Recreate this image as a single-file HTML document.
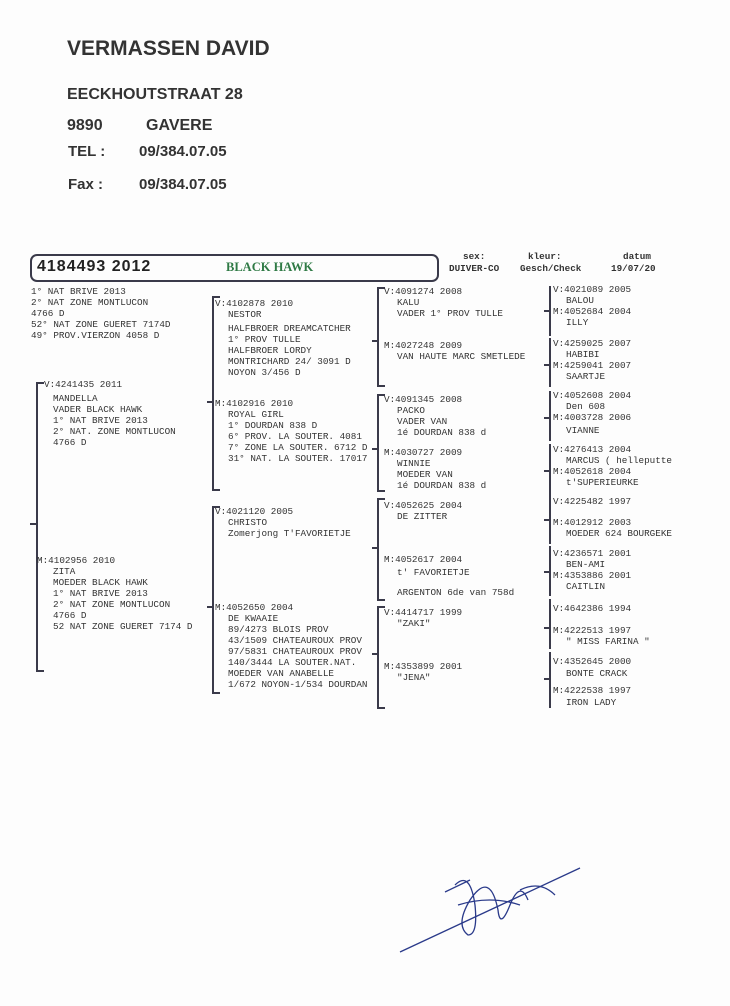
<!DOCTYPE html>
<html><head><meta charset="utf-8">
<style>
body{margin:0;width:730px;height:1006px;background:#fdfdfd;position:relative;overflow:hidden;font-family:"Liberation Sans",sans-serif;color:#333}
.a{position:absolute;white-space:pre;line-height:1}
.h{font-weight:bold;color:#333}
.m{position:absolute;white-space:pre;font-family:"Liberation Mono",monospace;font-size:9.3px;line-height:11px;color:#333}
.b{position:absolute;border:2px solid #3a3a4a;border-right:none;width:6px}
.bl{position:absolute;border-left:2px solid #3a3a4a}
.t{position:absolute;height:2px;background:#3a3a4a;width:7px}
</style></head><body>
<div class="a h" style="left:67px;top:38px;font-size:21px">VERMASSEN DAVID</div>
<div class="a h" style="left:67px;top:87px;font-size:16px">EECKHOUTSTRAAT 28</div>
<div class="a h" style="left:67px;top:118px;font-size:16px">9890</div>
<div class="a h" style="left:146px;top:118px;font-size:16px">GAVERE</div>
<div class="a h" style="left:68px;top:144px;font-size:15px">TEL :</div>
<div class="a h" style="left:139px;top:144px;font-size:15px">09/384.07.05</div>
<div class="a h" style="left:68px;top:177px;font-size:15px">Fax :</div>
<div class="a h" style="left:139px;top:177px;font-size:15px">09/384.07.05</div>

<div style="position:absolute;left:30px;top:254px;width:405px;height:24px;border:2px solid #3a3a4a;border-radius:7px"></div>
<div class="a h" style="left:37px;top:259px;font-size:16px;letter-spacing:1px;color:#222">4184493 2012</div>
<div class="a h" style="left:226px;top:261px;font-size:12.5px;font-family:'Liberation Serif',serif;color:#2f7a45">BLACK HAWK</div>
<div class="m" style="left:463px;top:251px;font-weight:bold">sex:</div>
<div class="m" style="left:449px;top:263px;font-weight:bold">DUIVER-CO</div>
<div class="m" style="left:528px;top:251px;font-weight:bold">kleur:</div>
<div class="m" style="left:520px;top:263px;font-weight:bold">Gesch/Check</div>
<div class="m" style="left:623px;top:251px;font-weight:bold">datum</div>
<div class="m" style="left:611px;top:263px;font-weight:bold">19/07/20</div>

<div class="m" style="left:31px;top:286px">1° NAT BRIVE 2013
2° NAT ZONE MONTLUCON
4766 D
52° NAT ZONE GUERET 7174D
49° PROV.VIERZON 4058 D</div>

<div class="b" style="left:36px;top:382px;height:286px"></div>
<div class="t" style="left:30px;top:523px"></div>
<div class="m" style="left:44px;top:379px">V:4241435 2011</div>
<div class="m" style="left:53px;top:393px">MANDELLA
VADER BLACK HAWK
1° NAT BRIVE 2013
2° NAT. ZONE MONTLUCON
4766 D</div>
<div class="m" style="left:37px;top:555px">M:4102956 2010</div>
<div class="m" style="left:53px;top:566px">ZITA
MOEDER BLACK HAWK
1° NAT BRIVE 2013
2° NAT ZONE MONTLUCON
4766 D
52 NAT ZONE GUERET 7174 D</div>

<div class="b" style="left:212px;top:296px;height:191px"></div>
<div class="t" style="left:207px;top:401px"></div>
<div class="m" style="left:215px;top:298px">V:4102878 2010</div>
<div class="m" style="left:228px;top:309px">NESTOR</div>
<div class="m" style="left:228px;top:323px">HALFBROER DREAMCATCHER
1° PROV TULLE
HALFBROER LORDY
MONTRICHARD 24/ 3091 D
NOYON 3/456 D</div>
<div class="m" style="left:215px;top:398px">M:4102916 2010</div>
<div class="m" style="left:228px;top:409px">ROYAL GIRL
1° DOURDAN 838 D
6° PROV. LA SOUTER. 4081
7° ZONE LA SOUTER. 6712 D
31° NAT. LA SOUTER. 17017</div>

<div class="b" style="left:212px;top:506px;height:184px"></div>
<div class="t" style="left:207px;top:606px"></div>
<div class="m" style="left:215px;top:506px">V:4021120 2005</div>
<div class="m" style="left:228px;top:517px">CHRISTO
Zomerjong T'FAVORIETJE</div>
<div class="m" style="left:215px;top:602px">M:4052650 2004</div>
<div class="m" style="left:228px;top:613px">DE KWAAIE
89/4273 BLOIS PROV
43/1509 CHATEAUROUX PROV
97/5831 CHATEAUROUX PROV
140/3444 LA SOUTER.NAT.
MOEDER VAN ANABELLE
1/672 NOYON-1/534 DOURDAN</div>

<div class="b" style="left:377px;top:287px;height:96px"></div>
<div class="t" style="left:372px;top:340px"></div>
<div class="m" style="left:384px;top:286px">V:4091274 2008</div>
<div class="m" style="left:397px;top:297px">KALU
VADER 1° PROV TULLE</div>
<div class="m" style="left:384px;top:340px">M:4027248 2009</div>
<div class="m" style="left:397px;top:351px">VAN HAUTE MARC SMETLEDE</div>

<div class="b" style="left:377px;top:394px;height:94px"></div>
<div class="t" style="left:372px;top:448px"></div>
<div class="m" style="left:384px;top:394px">V:4091345 2008</div>
<div class="m" style="left:397px;top:405px">PACKO
VADER VAN
1é DOURDAN 838 d</div>
<div class="m" style="left:384px;top:447px">M:4030727 2009</div>
<div class="m" style="left:397px;top:458px">WINNIE
MOEDER VAN
1é DOURDAN 838 d</div>

<div class="b" style="left:377px;top:498px;height:99px"></div>
<div class="t" style="left:372px;top:547px"></div>
<div class="m" style="left:384px;top:500px">V:4052625 2004</div>
<div class="m" style="left:397px;top:511px">DE ZITTER</div>
<div class="m" style="left:384px;top:554px">M:4052617 2004</div>
<div class="m" style="left:397px;top:567px">t' FAVORIETJE</div>
<div class="m" style="left:397px;top:587px">ARGENTON 6de van 758d</div>

<div class="b" style="left:377px;top:606px;height:99px"></div>
<div class="t" style="left:372px;top:653px"></div>
<div class="m" style="left:384px;top:607px">V:4414717 1999</div>
<div class="m" style="left:397px;top:618px">"ZAKI"</div>
<div class="m" style="left:384px;top:661px">M:4353899 2001</div>
<div class="m" style="left:397px;top:672px">"JENA"</div>

<div class="bl" style="left:549px;top:286px;height:50px"></div>
<div class="t" style="left:544px;top:310px"></div>
<div class="m" style="left:553px;top:284px">V:4021089 2005</div>
<div class="m" style="left:566px;top:295px">BALOU</div>
<div class="m" style="left:553px;top:306px">M:4052684 2004</div>
<div class="m" style="left:566px;top:317px">ILLY</div>

<div class="bl" style="left:549px;top:338px;height:49px"></div>
<div class="t" style="left:544px;top:364px"></div>
<div class="m" style="left:553px;top:338px">V:4259025 2007</div>
<div class="m" style="left:566px;top:349px">HABIBI</div>
<div class="m" style="left:553px;top:360px">M:4259041 2007</div>
<div class="m" style="left:566px;top:371px">SAARTJE</div>

<div class="bl" style="left:549px;top:391px;height:50px"></div>
<div class="t" style="left:544px;top:417px"></div>
<div class="m" style="left:553px;top:390px">V:4052608 2004</div>
<div class="m" style="left:566px;top:401px">Den 608</div>
<div class="m" style="left:553px;top:412px">M:4003728 2006</div>
<div class="m" style="left:566px;top:425px">VIANNE</div>

<div class="bl" style="left:549px;top:444px;height:50px"></div>
<div class="t" style="left:544px;top:470px"></div>
<div class="m" style="left:553px;top:444px">V:4276413 2004</div>
<div class="m" style="left:566px;top:455px">MARCUS ( helleputte</div>
<div class="m" style="left:553px;top:466px">M:4052618 2004</div>
<div class="m" style="left:566px;top:477px">t'SUPERIEURKE</div>

<div class="bl" style="left:549px;top:494px;height:50px"></div>
<div class="t" style="left:544px;top:519px"></div>
<div class="m" style="left:553px;top:496px">V:4225482 1997</div>
<div class="m" style="left:553px;top:517px">M:4012912 2003</div>
<div class="m" style="left:566px;top:528px">MOEDER 624 BOURGEKE</div>

<div class="bl" style="left:549px;top:546px;height:50px"></div>
<div class="t" style="left:544px;top:571px"></div>
<div class="m" style="left:553px;top:548px">V:4236571 2001</div>
<div class="m" style="left:566px;top:559px">BEN-AMI</div>
<div class="m" style="left:553px;top:570px">M:4353886 2001</div>
<div class="m" style="left:566px;top:581px">CAITLIN</div>

<div class="bl" style="left:549px;top:599px;height:50px"></div>
<div class="t" style="left:544px;top:627px"></div>
<div class="m" style="left:553px;top:603px">V:4642386 1994</div>
<div class="m" style="left:553px;top:625px">M:4222513 1997</div>
<div class="m" style="left:566px;top:636px">" MISS FARINA "</div>

<div class="bl" style="left:549px;top:652px;height:56px"></div>
<div class="t" style="left:544px;top:678px"></div>
<div class="m" style="left:553px;top:656px">V:4352645 2000</div>
<div class="m" style="left:566px;top:668px">BONTE CRACK</div>
<div class="m" style="left:553px;top:685px">M:4222538 1997</div>
<div class="m" style="left:566px;top:697px">IRON LADY</div>

<svg style="position:absolute;left:0;top:0" width="730" height="1006">
<g fill="none" stroke="#2a3a8a" stroke-width="1.3">
<path d="M400 952 Q480 915 580 868"/>
<path d="M455 885 Q470 870 475 905 Q478 935 468 935 Q455 925 470 900 Q490 870 498 910 Q500 930 510 905 Q520 880 528 900"/>
<path d="M445 892 L470 880"/>
<path d="M458 905 Q490 895 520 905"/>
<path d="M520 890 Q540 880 555 895"/>
</g>
</svg>
</body></html>
